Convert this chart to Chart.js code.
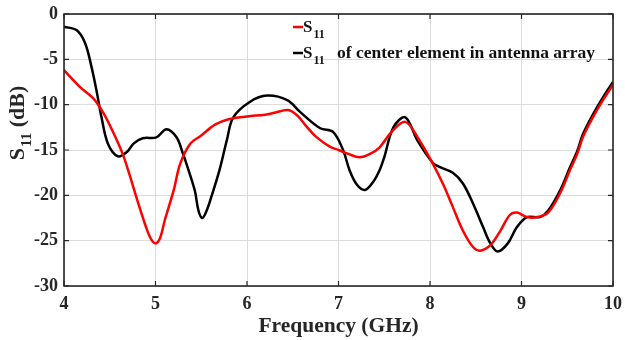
<!DOCTYPE html>
<html>
<head>
<meta charset="utf-8">
<script src="https://cdn.jsdelivr.net/npm/chart.js@4.4.1/dist/chart.umd.min.js"></script>
<style>
  html, body { margin: 0; padding: 0; background: #fff; }
  #wrap { width: 625px; height: 340px; position: relative; }
</style>
</head>
<body>
<div id="wrap"><canvas id="s11Chart"></canvas></div>
<script>
// S11 of the single antenna (red)
const redFreq = [4.0, 4.17, 4.32, 4.43, 4.54, 4.64, 4.7, 4.8, 4.9, 4.95, 5.0, 5.05, 5.1, 5.2, 5.27, 5.38, 5.5, 5.65, 5.8, 6.0, 6.2, 6.3, 6.45, 6.55, 6.65, 6.75, 6.9, 7.0, 7.1, 7.23, 7.35, 7.45, 7.58, 7.73, 7.87, 8.03, 8.14, 8.25, 8.36, 8.47, 8.55, 8.66, 8.77, 8.87, 8.95, 9.06, 9.17, 9.29, 9.42, 9.53, 9.61, 9.67, 9.78, 9.89, 10.0];
const redS11 = [-6.2, -8.0, -9.3, -10.9, -13.1, -15.4, -17.2, -20.5, -23.6, -24.8, -25.3, -24.7, -22.8, -19.4, -16.5, -14.3, -13.4, -12.2, -11.6, -11.3, -11.1, -10.9, -10.6, -11.2, -12.4, -13.5, -14.6, -15.0, -15.4, -15.8, -15.4, -14.7, -13.0, -11.9, -13.7, -16.5, -18.7, -21.3, -23.9, -25.7, -26.1, -25.5, -23.9, -22.2, -21.9, -22.4, -22.4, -21.9, -19.8, -17.2, -15.4, -13.6, -11.4, -9.5, -7.8];

// S11 of the center element in the array (black)
const blackFreq = [4.0, 4.14, 4.23, 4.3, 4.36, 4.41, 4.48, 4.59, 4.69, 4.76, 4.86, 5.01, 5.12, 5.23, 5.3, 5.36, 5.43, 5.47, 5.51, 5.55, 5.6, 5.7, 5.78, 5.85, 6.03, 6.22, 6.44, 6.58, 6.8, 6.94, 7.05, 7.12, 7.2, 7.29, 7.38, 7.45, 7.5, 7.6, 7.73, 7.86, 8.03, 8.11, 8.25, 8.36, 8.47, 8.58, 8.66, 8.74, 8.85, 8.95, 9.06, 9.2, 9.29, 9.42, 9.53, 9.61, 9.67, 9.78, 9.89, 10.0];
const blackS11 = [-1.4, -1.8, -3.2, -5.8, -8.7, -11.4, -14.3, -15.7, -15.2, -14.3, -13.7, -13.6, -12.7, -13.6, -15.4, -17.2, -19.5, -21.7, -22.5, -21.9, -20.5, -17.2, -13.9, -11.4, -9.7, -9.0, -9.5, -10.8, -12.6, -13.0, -15.0, -17.2, -18.8, -19.4, -18.5, -17.2, -15.8, -12.5, -11.4, -13.9, -16.4, -16.9, -17.5, -18.7, -20.9, -23.5, -25.3, -26.2, -25.3, -23.5, -22.4, -22.4, -21.7, -19.5, -16.9, -15.1, -13.3, -11.1, -9.2, -7.5];

const xTicks = [4, 5, 6, 7, 8, 9, 10];
const yTicks = [0, -5, -10, -15, -20, -25, -30];

const serif = "'Liberation Serif', 'Times New Roman', serif";

function toPoints(xs, ys) {
    return xs.map((x, i) => ({ x: x, y: ys[i] }));
}

// "S" with a "11" subscript, returns the width used
function drawS11(ctx, x, y, size, subSize, drop) {
    ctx.font = 'bold ' + size + 'px ' + serif;
    ctx.fillText('S', x, y);
    const w = ctx.measureText('S').width;
    ctx.font = 'bold ' + subSize + 'px ' + serif;
    ctx.fillText('11', x + w + 1, y + drop);
    return w + 1 + ctx.measureText('11').width;
}

// frame, inward ticks, axis titles and legend like the MATLAB figure
const decorPlugin = {
    id: 'decor',
    afterDraw(chart) {
        const ctx = chart.ctx;
        const a = chart.chartArea;
        const xs = chart.scales.x, ys = chart.scales.y;
        ctx.save();

        // inward ticks
        ctx.strokeStyle = '#262626';
        ctx.lineWidth = 1.2;
        ctx.beginPath();
        xTicks.forEach(v => {
            const px = xs.getPixelForValue(v);
            ctx.moveTo(px, a.bottom); ctx.lineTo(px, a.bottom - 5);
            ctx.moveTo(px, a.top); ctx.lineTo(px, a.top + 5);
        });
        yTicks.forEach(v => {
            const py = ys.getPixelForValue(v);
            ctx.moveTo(a.left, py); ctx.lineTo(a.left + 5, py);
            ctx.moveTo(a.right, py); ctx.lineTo(a.right - 5, py);
        });
        ctx.stroke();

        // box
        ctx.lineWidth = 1.6;
        ctx.strokeRect(a.left, a.top, a.right - a.left, a.bottom - a.top);

        // x title
        ctx.fillStyle = '#262626';
        ctx.textAlign = 'center';
        ctx.textBaseline = 'alphabetic';
        ctx.font = 'bold 21.5px ' + serif;
        ctx.fillText('Frequency (GHz)', (a.left + a.right) / 2, 332);

        // y title, rotated
        ctx.save();
        ctx.translate(24, 123);
        ctx.rotate(-Math.PI / 2);
        ctx.textAlign = 'left';
        ctx.font = 'bold 22px ' + serif;
        const sw = ctx.measureText('S').width;
        ctx.font = 'bold 15px ' + serif;
        const subw = ctx.measureText('11').width;
        ctx.font = 'bold 22px ' + serif;
        const restw = ctx.measureText(' (dB)').width;
        const start = -(sw + 1 + subw + restw) / 2;
        const used = drawS11(ctx, start, 0, 22, 15, 7);
        ctx.font = 'bold 22px ' + serif;
        ctx.fillText(' (dB)', start + used, 0);
        ctx.restore();

        // legend
        ctx.textAlign = 'left';
        ctx.lineWidth = 2.5;
        ctx.strokeStyle = '#ff0000';
        ctx.beginPath(); ctx.moveTo(293, 27); ctx.lineTo(303, 27); ctx.stroke();
        ctx.fillStyle = '#111';
        drawS11(ctx, 303, 32, 17, 12, 6);

        ctx.strokeStyle = '#000';
        ctx.beginPath(); ctx.moveTo(293, 53); ctx.lineTo(303, 53); ctx.stroke();
        drawS11(ctx, 303, 58, 17, 12, 6);
        ctx.font = 'bold 17.5px ' + serif;
        ctx.fillText('of center element in antenna array', 337, 58);

        ctx.restore();
    }
};

new Chart(document.getElementById('s11Chart'), {
    type: 'line',
    data: {
        datasets: [
            {
                label: 'S11',
                data: toPoints(redFreq, redS11),
                borderColor: '#ff0000',
                borderWidth: 2.5,
                pointRadius: 0,
                tension: 0.35,
                fill: false
            },
            {
                label: 'S11 of center element in antenna array',
                data: toPoints(blackFreq, blackS11),
                borderColor: '#000000',
                borderWidth: 2.5,
                pointRadius: 0,
                tension: 0.35,
                fill: false
            }
        ]
    },
    options: {
        responsive: true,
        maintainAspectRatio: false,
        animation: false,
        layout: { padding: { top: 14, right: 12, left: 0, bottom: 0 } },
        plugins: {
            legend: { display: false },
            tooltip: { enabled: false }
        },
        scales: {
            x: {
                type: 'linear',
                min: 4,
                max: 10,
                afterFit: s => { s.height = 54; s.paddingLeft = 0; s.paddingRight = 0; },
                afterBuildTicks: s => { s.ticks = xTicks.map(v => ({ value: v })); },
                grid: { color: '#dcdcdc', lineWidth: 1, drawTicks: false },
                border: { display: false },
                ticks: {
                    padding: 8,
                    color: '#262626',
                    font: { family: serif, size: 18, weight: 'bold' }
                }
            },
            y: {
                min: -30,
                max: 0,
                afterFit: s => { s.width = 64; s.paddingTop = 0; s.paddingBottom = 0; },
                afterBuildTicks: s => { s.ticks = yTicks.map(v => ({ value: v })); },
                grid: { color: '#dcdcdc', lineWidth: 1, drawTicks: false },
                border: { display: false },
                ticks: {
                    padding: 6,
                    color: '#262626',
                    font: { family: serif, size: 18, weight: 'bold' }
                }
            }
        }
    },
    plugins: [decorPlugin]
});
</script>
</body>
</html>
